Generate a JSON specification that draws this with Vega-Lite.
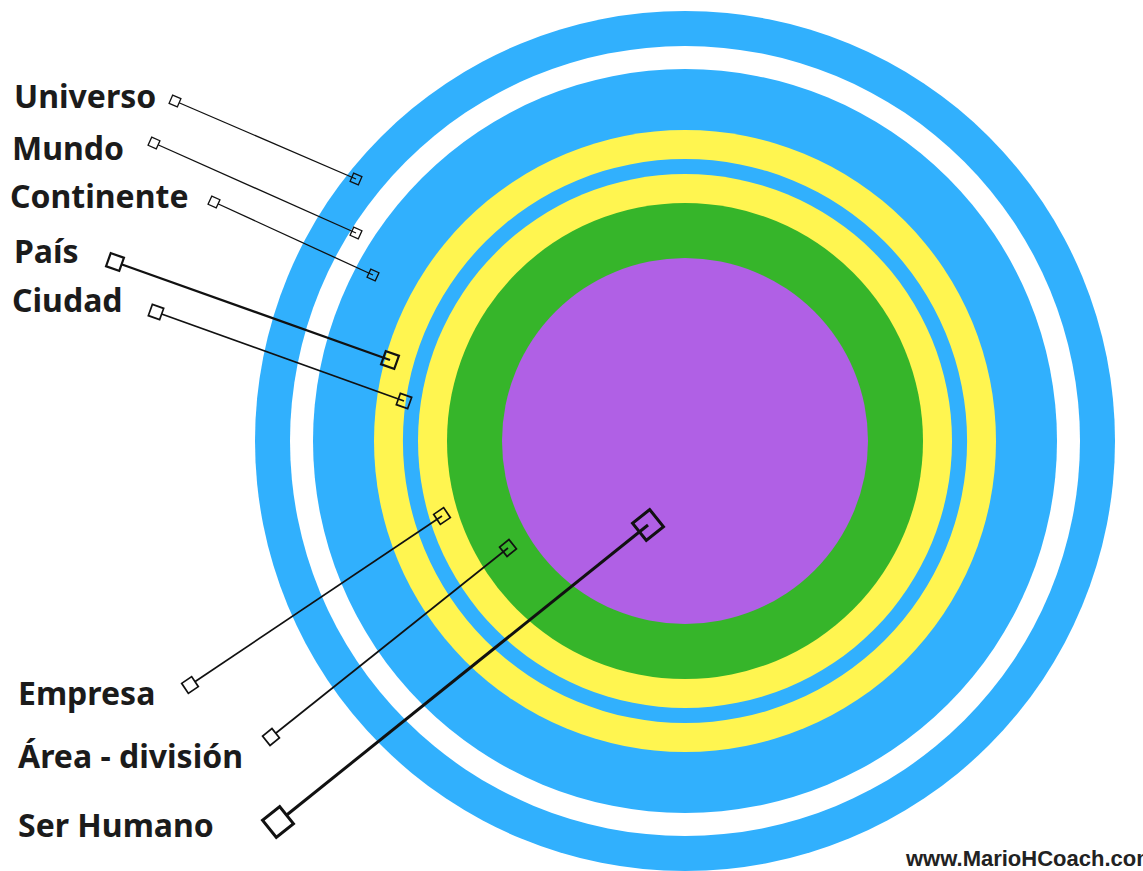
{
  "$schema": "https://vega.github.io/schema/vega-lite/v6.json",
  "width": 1143,
  "height": 871,
  "autosize": {"type": "none"},
  "padding": 0,
  "background": "white",
  "config": {"view": {"stroke": null}},
  "datasets": {
    "anillos": [
      {"nivel": "Universo", "r": 430, "cx": 685, "cy": 441},
      {"nivel": "Mundo", "r": 395, "cx": 685, "cy": 441},
      {"nivel": "Continente", "r": 372, "cx": 685, "cy": 441},
      {"nivel": "País", "r": 311, "cx": 685, "cy": 441},
      {"nivel": "Ciudad", "r": 282, "cx": 685, "cy": 441},
      {"nivel": "Empresa", "r": 267, "cx": 685, "cy": 441},
      {"nivel": "Área - división", "r": 238, "cx": 685, "cy": 441},
      {"nivel": "Ser Humano", "r": 183, "cx": 685, "cy": 441}
    ],
    "etiquetas": [
      {"etiqueta": "Universo", "tx": 14, "ty": 108, "x1": 175, "y1": 101, "x2": 356, "y2": 179, "enfasis": "a"},
      {"etiqueta": "Mundo", "tx": 12, "ty": 160, "x1": 154, "y1": 143, "x2": 356, "y2": 233, "enfasis": "a"},
      {"etiqueta": "Continente", "tx": 10, "ty": 208, "x1": 214, "y1": 202, "x2": 373, "y2": 275, "enfasis": "a"},
      {"etiqueta": "País", "tx": 14, "ty": 263, "x1": 115, "y1": 262, "x2": 390, "y2": 360, "enfasis": "c"},
      {"etiqueta": "Ciudad", "tx": 12, "ty": 312, "x1": 156, "y1": 312, "x2": 404, "y2": 401, "enfasis": "b"},
      {"etiqueta": "Empresa", "tx": 18, "ty": 705, "x1": 190, "y1": 685, "x2": 442, "y2": 516, "enfasis": "b"},
      {"etiqueta": "Área - división", "tx": 18, "ty": 768, "x1": 271, "y1": 737, "x2": 508, "y2": 548, "enfasis": "b"},
      {"etiqueta": "Ser Humano", "tx": 18, "ty": 837, "x1": 278, "y1": 822, "x2": 648, "y2": 525, "enfasis": "d"}
    ],
    "marca": [
      {"texto": "www.MarioHCoach.com", "tx": 906, "ty": 866}
    ]
  },
  "layer": [
    {
      "data": {"name": "anillos"},
      "mark": {"type": "arc", "theta": 0, "theta2": 6.2832},
      "encoding": {
        "x": {"field": "cx", "type": "quantitative", "scale": {"domain": [0, 1143], "nice": false, "zero": false}, "axis": null},
        "y": {"field": "cy", "type": "quantitative", "scale": {"domain": [0, 871], "nice": false, "zero": false, "reverse": true}, "axis": null},
        "radius": {"field": "r", "type": "quantitative", "stack": null, "scale": {"type": "linear", "domain": [0, 871], "range": [0, 871], "zero": true}},
        "color": {
          "field": "nivel", "type": "nominal", "legend": null,
          "scale": {
            "domain": ["Universo", "Mundo", "Continente", "País", "Ciudad", "Empresa", "Área - división", "Ser Humano"],
            "range": ["#31b0fd", "#ffffff", "#31b0fd", "#fff550", "#31b0fd", "#fff550", "#36b52a", "#b060e5"]
          }
        }
      }
    },
    {
      "data": {"name": "etiquetas"},
      "mark": {"type": "rule", "color": "#111111"},
      "encoding": {
        "x": {"field": "x1", "type": "quantitative"},
        "y": {"field": "y1", "type": "quantitative"},
        "x2": {"field": "x2"},
        "y2": {"field": "y2"},
        "strokeWidth": {"field": "enfasis", "type": "nominal", "legend": null, "scale": {"type": "ordinal", "domain": ["a", "b", "c", "d"], "range": [1.3, 1.7, 2.2, 3]}}
      }
    },
    {
      "data": {"name": "etiquetas"},
      "transform": [{"calculate": "atan2(datum.y2 - datum.y1, datum.x2 - datum.x1) * 180 / PI", "as": "ang"}],
      "mark": {"type": "point", "shape": "square", "filled": false, "fill": "white", "fillOpacity": 1, "stroke": "#111111", "opacity": 1},
      "encoding": {
        "x": {"field": "x1", "type": "quantitative"},
        "y": {"field": "y1", "type": "quantitative"},
        "angle": {"field": "ang", "type": "quantitative", "scale": {"domain": [-180, 180], "range": [-180, 180]}},
        "size": {"field": "enfasis", "type": "nominal", "legend": null, "scale": {"type": "ordinal", "domain": ["a", "b", "c", "d"], "range": [81, 144, 196, 484]}},
        "strokeWidth": {"field": "enfasis", "type": "nominal", "legend": null, "scale": {"type": "ordinal", "domain": ["a", "b", "c", "d"], "range": [1.3, 1.7, 2.2, 3]}}
      }
    },
    {
      "data": {"name": "etiquetas"},
      "transform": [{"calculate": "atan2(datum.y2 - datum.y1, datum.x2 - datum.x1) * 180 / PI", "as": "ang"}],
      "mark": {"type": "point", "shape": "square", "filled": false, "stroke": "#111111", "opacity": 1},
      "encoding": {
        "x": {"field": "x2", "type": "quantitative"},
        "y": {"field": "y2", "type": "quantitative"},
        "angle": {"field": "ang", "type": "quantitative", "scale": {"domain": [-180, 180], "range": [-180, 180]}},
        "size": {"field": "enfasis", "type": "nominal", "legend": null, "scale": {"type": "ordinal", "domain": ["a", "b", "c", "d"], "range": [81, 144, 196, 484]}},
        "strokeWidth": {"field": "enfasis", "type": "nominal", "legend": null, "scale": {"type": "ordinal", "domain": ["a", "b", "c", "d"], "range": [1.3, 1.7, 2.2, 3]}}
      }
    },
    {
      "data": {"name": "etiquetas"},
      "mark": {"type": "text", "align": "left", "baseline": "alphabetic", "font": "Noto Sans", "fontWeight": "bold", "fontSize": 32, "color": "#1b1b1b"},
      "encoding": {
        "x": {"field": "tx", "type": "quantitative"},
        "y": {"field": "ty", "type": "quantitative"},
        "text": {"field": "etiqueta", "type": "nominal"}
      }
    },
    {
      "data": {"name": "marca"},
      "mark": {"type": "text", "align": "left", "baseline": "alphabetic", "font": "Liberation Sans", "fontWeight": "bold", "fontSize": 22, "color": "#222222"},
      "encoding": {
        "x": {"field": "tx", "type": "quantitative"},
        "y": {"field": "ty", "type": "quantitative"},
        "text": {"field": "texto", "type": "nominal"}
      }
    }
  ]
}
